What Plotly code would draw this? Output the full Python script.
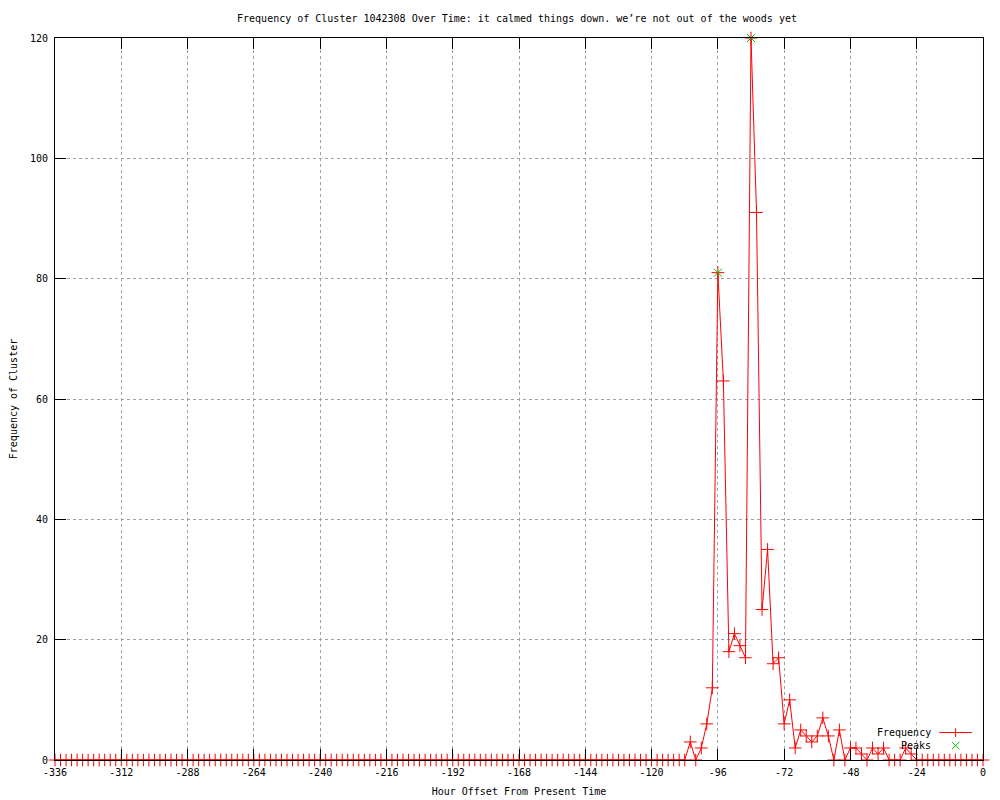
import plotly.graph_objects as go

# hourly offsets, one sample every 2 hours
HOURS = list(range(-336, 1, 2))

# frequency per sample (-336 .. 0)
FREQ = [
    0, 0, 0, 0, 0, 0, 0, 0, 0, 0, 0, 0, 0, 0, 0, 0, 0, 0, 0, 0,
    0, 0, 0, 0, 0, 0, 0, 0, 0, 0, 0, 0, 0, 0, 0, 0, 0, 0, 0, 0,
    0, 0, 0, 0, 0, 0, 0, 0, 0, 0, 0, 0, 0, 0, 0, 0, 0, 0, 0, 0,
    0, 0, 0, 0, 0, 0, 0, 0, 0, 0, 0, 0, 0, 0, 0, 0, 0, 0, 0, 0,
    0, 0, 0, 0, 0, 0, 0, 0, 0, 0, 0, 0, 0, 0, 0, 0, 0, 0, 0, 0,
    0, 0, 0, 0, 0, 0, 0, 0, 0, 0, 0, 0, 0, 0, 0,          # -336 .. -108
    3, 0, 2, 6, 12, 81, 63, 18, 21, 19, 17, 120, 91, 25, 35, 16,  # -106 .. -76
    17, 6, 10, 2, 5, 4, 3, 4, 7, 4, 0, 5, 0, 2, 2, 1,      # -74 .. -44
    0, 2, 1, 2, 0, 0, 0, 2, 1,                            # -42 .. -26
    0, 0, 0, 0, 0, 0, 0, 0, 0, 0, 0, 0, 0,                # -24 .. 0
]

PEAK_HOURS = [-96, -84]
PEAK_FREQ = [81, 120]

X_TICKS = list(range(-336, 1, 24))
X_TICKTEXT = [str(v) for v in X_TICKS]
Y_TICKS = [0, 20, 40, 60, 80, 100, 120]

TITLE = "Frequency of Cluster 1042308 Over Time: it calmed things down. we\u2019re not out of the woods yet"
FONT = "DejaVu Sans Mono"
FS = 10
RED = "#ff0000"
GREEN = "#00c000"
GRID = "#a0a0a0"

fig = go.Figure()
fig.add_trace(go.Scatter(
    x=HOURS, y=FREQ, mode="lines+markers", name="Frequency",
    line=dict(color=RED, width=1),
    marker=dict(symbol="cross-thin", size=9, line=dict(color=RED, width=1)),
    cliponaxis=False, showlegend=False))
fig.add_trace(go.Scatter(
    x=PEAK_HOURS, y=PEAK_FREQ, mode="markers", name="Peaks",
    marker=dict(symbol="x-thin", size=8, line=dict(color=GREEN, width=1)),
    cliponaxis=False, showlegend=False))

# the page body adds an 8px offset, so margins are trimmed on the top/left
fig.update_layout(
    width=1000, height=800,
    paper_bgcolor="white", plot_bgcolor="white",
    margin=dict(l=47, r=25, t=30, b=48, autoexpand=False),
    font=dict(family=FONT, size=FS, color="black"),
    title=dict(text=TITLE, x=0.509, xanchor="center", y=0.9875, yanchor="middle",
               font=dict(family=FONT, size=FS, color="black")),
)
fig.update_xaxes(
    range=[-336, 0], tickvals=X_TICKS, ticktext=X_TICKTEXT, automargin=False,
    showline=True, linecolor="black", linewidth=1, mirror="allticks",
    ticks="inside", ticklen=11, tickcolor="black", tickwidth=1,
    ticklabelstandoff=3,
    showgrid=True, gridcolor=GRID, griddash="dot", gridwidth=1,
    zeroline=False,
    title=dict(text="Hour Offset From Present Time", standoff=10,
               font=dict(family=FONT, size=FS)),
)
fig.update_yaxes(
    range=[0, 120], tickvals=Y_TICKS, automargin=False,
    showline=True, linecolor="black", linewidth=1, mirror="allticks",
    ticks="inside", ticklen=11, tickcolor="black", tickwidth=1,
    ticklabelstandoff=4,
    showgrid=True, gridcolor=GRID, griddash="dot", gridwidth=1,
    zeroline=False,
    title=dict(text="Frequency of Cluster", standoff=10,
               font=dict(family=FONT, size=FS)),
)

# gnuplot-style key: label on the left, sample on the right
fig.add_annotation(text="Frequency", xref="paper", yref="paper", x=0.946, y=0.038,
                   xanchor="right", yanchor="middle", showarrow=False,
                   font=dict(family=FONT, size=FS))
fig.add_annotation(text="Peaks", xref="paper", yref="paper", x=0.946, y=0.020,
                   xanchor="right", yanchor="middle", showarrow=False,
                   font=dict(family=FONT, size=FS))
fig.add_shape(type="line", xref="paper", yref="paper", x0=0.953, x1=0.988,
              y0=0.038, y1=0.038, line=dict(color=RED, width=1))
fig.add_shape(type="line", xref="paper", yref="paper", x0=0.9705, x1=0.9705,
              y0=0.032, y1=0.044, line=dict(color=RED, width=1))
fig.add_shape(type="line", xref="paper", yref="paper", x0=0.9665, x1=0.9745,
              y0=0.015, y1=0.025, line=dict(color=GREEN, width=1))
fig.add_shape(type="line", xref="paper", yref="paper", x0=0.9665, x1=0.9745,
              y0=0.025, y1=0.015, line=dict(color=GREEN, width=1))

fig.write_html("out.html")
